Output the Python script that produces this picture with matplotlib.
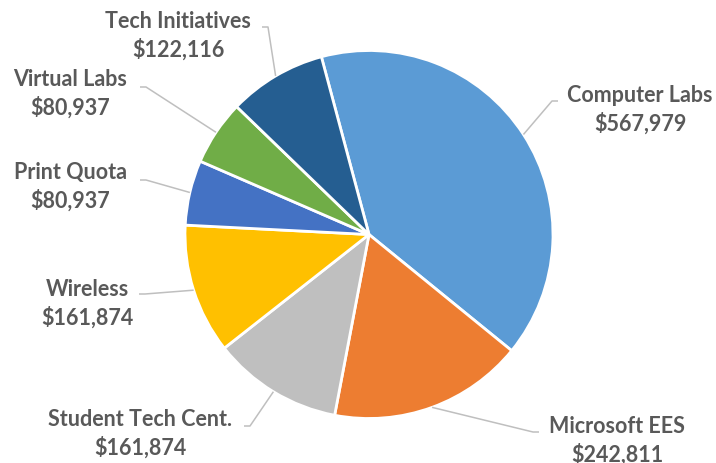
import matplotlib
matplotlib.use("Agg")
import matplotlib.pyplot as plt
import numpy as np

# data
categories = ["Computer Labs", "Microsoft EES", "Student Tech Cent.", "Wireless",
              "Print Quota", "Virtual Labs", "Tech Initiatives"]
amounts = [567979, 242811, 161874, 161874, 80937, 80937, 122116]
colors = ["#5B9BD5", "#ED7D31", "#BFBFBF", "#FFC000", "#4472C4", "#70AD47", "#255E91"]

# layout (pixels): label centre and elbow of leader line
label_pos = [(640, 110), (617, 441), (140, 434), (87, 304), (70, 187), (70, 94), (178, 36)]
elbow_pos = [(552, 102), (533, 433), (250, 427), (145, 295), (146, 181), (146, 88), (268, 28)]

W, H = 716, 464
cx, cy, R = 369, 235.5, 184.0


def px(x, y):
    return (x - cx) / R, (cy - y) / R


plt.rcParams['font.family'] = ['Lato', 'DejaVu Sans']
fig = plt.figure(figsize=(W / 100, H / 100), dpi=100)
ax = fig.add_axes([0, 0, 1, 1])

wedges, _ = ax.pie(amounts, colors=colors, startangle=105, counterclock=False,
                   radius=1.0, center=(0, 0),
                   wedgeprops=dict(edgecolor="white", linewidth=2))

for w, name, val, lp, ep in zip(wedges, categories, amounts, label_pos, elbow_pos):
    ang = np.deg2rad((w.theta1 + w.theta2) / 2)
    rim = (np.cos(ang), np.sin(ang))
    ex, ey = px(*ep)
    tx = ex + (6 / R if ex > 0 else -6 / R)
    ax.plot([rim[0], ex, tx], [rim[1], ey, ey], color="#BFBFBF", lw=1.1,
            solid_capstyle="butt", zorder=1)
    lx, ly = px(*lp)
    ax.text(lx, ly, "{}\n\\${:,}".format(name, val), ha="center", va="center",
            fontsize=15.5, fontweight="bold", color="#595959", linespacing=1.35)

x0, y0 = px(0, 0)
x1, y1 = px(W, H)
ax.set_xlim(x0, x1)
ax.set_ylim(y1, y0)
ax.set_aspect("equal")
ax.axis("off")

fig.savefig("out.png", dpi=100)
